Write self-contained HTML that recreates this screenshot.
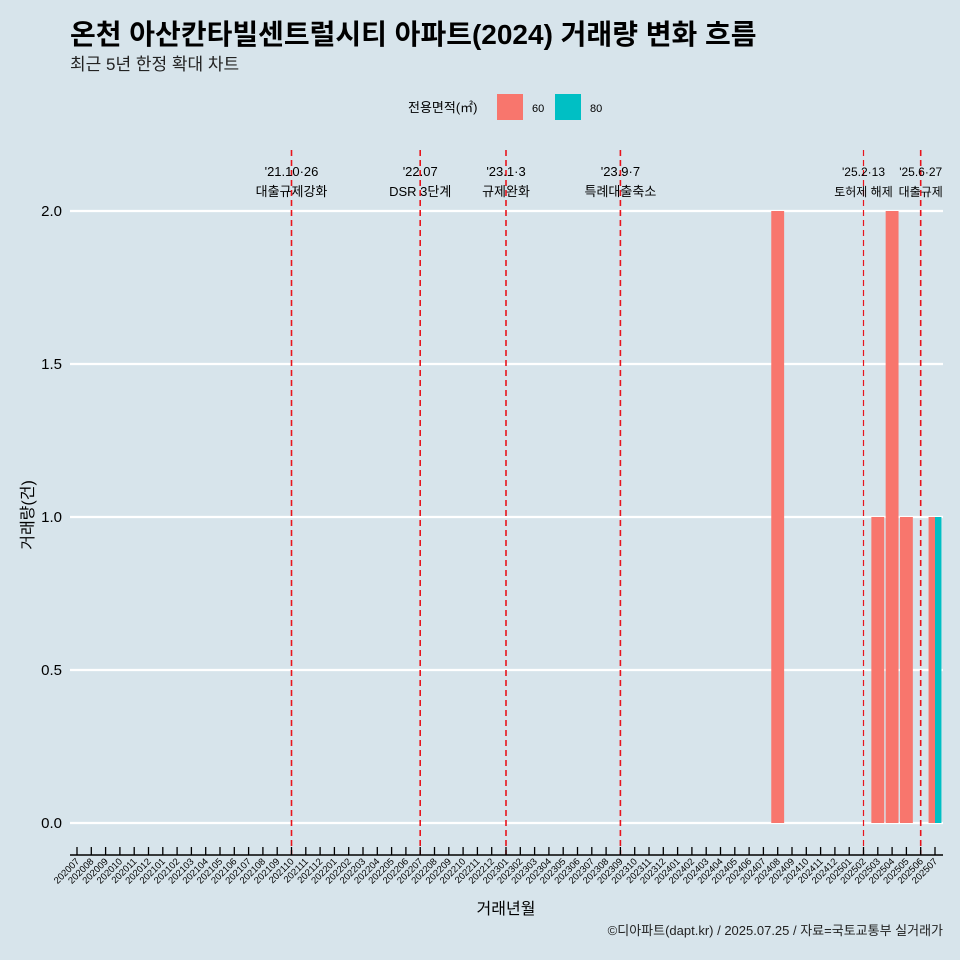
<!DOCTYPE html>
<html><head><meta charset="utf-8"><style>
body{margin:0;background:#d7e4eb;}
svg{display:block;font-family:"Liberation Sans","Noto Sans CJK KR",sans-serif;}
</style></head><body>
<svg id="c" width="960" height="960">
<rect width="960" height="960" fill="#d7e4eb"/>
<text x="70" y="44" font-size="28" font-weight="bold" fill="#000">온천 아산칸타빌센트럴시티 아파트(2024) 거래량 변화 흐름</text>
<text x="70" y="70" font-size="17" fill="#222">최근 5년 한정 확대 차트</text>
<g>
<text x="408" y="112" font-size="13" fill="#000">전용면적(㎡)</text>
<rect x="497" y="94" width="26" height="26" fill="#f8766d"/>
<text x="532" y="112" font-size="11">60</text>
<rect x="555" y="94" width="26" height="26" fill="#00bfc4"/>
<text x="590" y="112" font-size="11">80</text>
</g>
<g id="grid"></g><g id="bars"></g><g id="events"></g><g id="axis"></g>
<text transform="translate(33,515) rotate(-90)" text-anchor="middle" font-size="16">거래량(건)</text>
<text x="506" y="914" text-anchor="middle" font-size="16">거래년월</text>
<text x="943" y="935" text-anchor="end" font-size="13" fill="#222">©디아파트(dapt.kr) / 2025.07.25 / 자료=국토교통부 실거래가</text>
</svg>
<script>
const months=[];for(let y=2020;y<=2025;y++)for(let m=1;m<=12;m++){const k=y*100+m;if(k>=202007&&k<=202507)months.push(String(k));}
const yTicks=[0,0.5,1.0,1.5,2.0];
const bars60Months=["202408","202503","202504","202505","202507"];
const bars60Values=[2,1,2,1,1];
const bars80Months=["202507"];
const bars80Values=[1];
const eventMonths=["202110","202207","202301","202309","202502","202506"];
const eventDates=["'21.10·26","'22.07","'23.1·3","'23.9·7","'25.2·13","'25.6·27"];
const eventLabels=["대출규제강화","DSR 3단계","규제완화","특례대출축소","토허제 해제","대출규제"];
const NS="http://www.w3.org/2000/svg";
const X0=77,DX=(935-77)/60,Y0=823,SY=306;
const x=m=>X0+months.indexOf(m)*DX;
const y=v=>Y0-v*SY;
function mk(p,t,a){const e=document.createElementNS(NS,t);for(const k in a)e.setAttribute(k,a[k]);p.appendChild(e);return e;}
const grid=document.getElementById('grid'),bars=document.getElementById('bars'),ev=document.getElementById('events'),ax=document.getElementById('axis');
yTicks.forEach(v=>{
const l=mk(grid,'line',{x1:70,x2:943,y1:y(v),y2:y(v),stroke:'#fff','stroke-width':2.2});


const t=mk(grid,'text',{x:62,y:y(v)+5,'text-anchor':'end','font-size':15});
t.textContent=v.toFixed(1);


});
const W=DX*0.9;
bars60Months.forEach((m,i)=>{
const dodge=bars80Months.includes(m);
const w=dodge?W/2:W,bx=x(m)-W/2;
const r=mk(bars,'rect',{x:bx,y:y(bars60Values[i]),width:w,height:Y0-y(bars60Values[i]),fill:'#f8766d'});


});
bars80Months.forEach((m,i)=>{
const r=mk(bars,'rect',{x:x(m),y:y(bars80Values[i]),width:W/2,height:Y0-y(bars80Values[i]),fill:'#00bfc4'});


});
eventMonths.forEach((m,i)=>{
const xx=x(m);
const l=mk(ev,'line',{x1:xx,x2:xx,y1:150,y2:855,stroke:'#e8141c','stroke-width':i==4?1.2:1.6,'stroke-dasharray':'6,4'});


const fs=(i>=4)?12:13;
const t1=mk(ev,'text',{x:xx,y:176,'text-anchor':'middle','font-size':fs});
t1.textContent=eventDates[i];


const t2=mk(ev,'text',{x:xx,y:196,'text-anchor':'middle','font-size':fs});
t2.textContent=eventLabels[i];


});
const al=mk(ax,'line',{x1:70,x2:943,y1:855,y2:855,stroke:'#000','stroke-width':1.5});


months.forEach(m=>{
const xx=x(m);
const tk=mk(ax,'line',{x1:xx,x2:xx,y1:847,y2:855,stroke:'#000','stroke-width':1.3});


const t=mk(ax,'text',{transform:`translate(${xx+3},${862}) rotate(-45)`,'text-anchor':'end','font-size':9.5});
t.textContent=m;


});
</script>
</body></html>
